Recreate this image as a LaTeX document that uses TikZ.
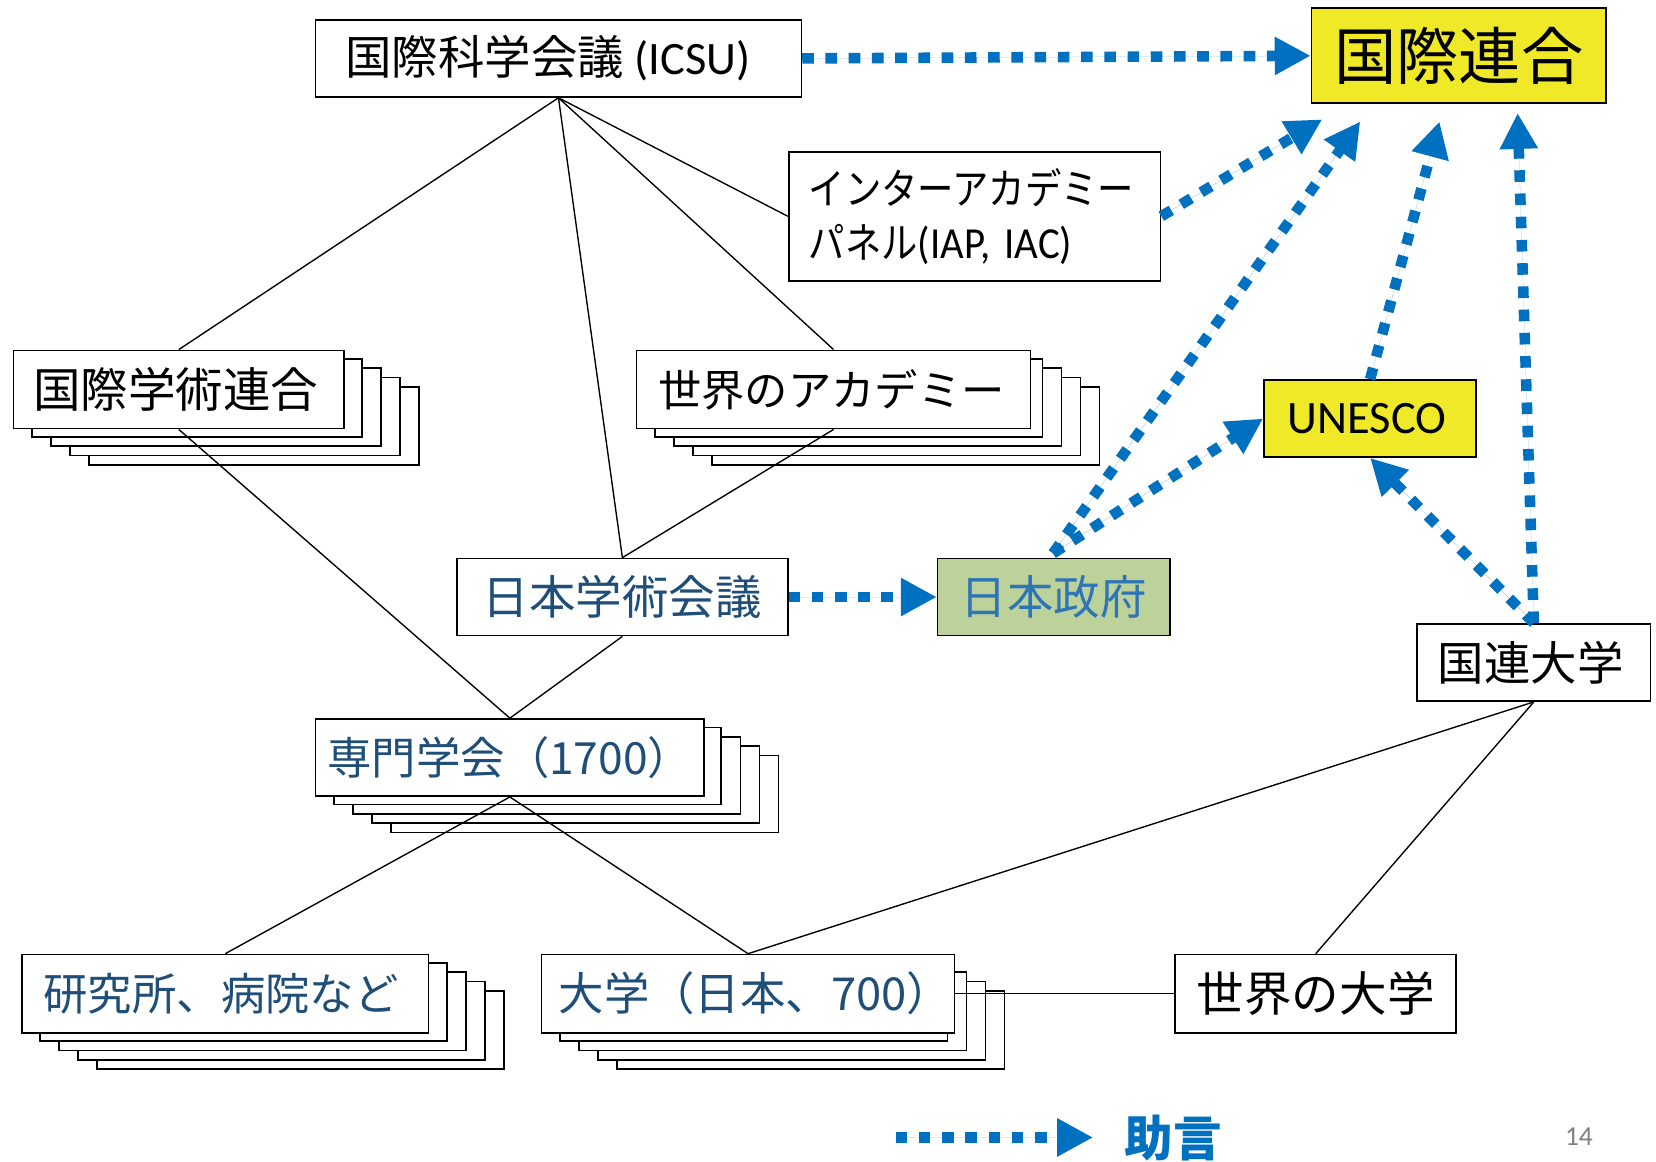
\documentclass[tikz,border=0pt]{standalone}
\usepackage{fontspec}
\setmainfont{Noto Sans CJK JP}
\newfontfamily\latf{Carlito}
\newfontfamily\narrowf[FakeStretch=0.86]{Noto Sans CJK JP}
\newfontfamily\narrowlat[FakeStretch=0.92]{Carlito}
\usetikzlibrary{arrows.meta}
\definecolor{unyellow}{RGB}{240,233,40}
\definecolor{govgreen}{RGB}{189,210,155}
\definecolor{advblue}{RGB}{0,112,192}
\definecolor{darkblue}{RGB}{31,78,121}
\definecolor{govblue}{RGB}{46,117,182}
\newcommand{\fsz}[1]{\fontsize{#1pt}{#1pt}\selectfont}
% name, x, y, w, h, back width, text
\newcommand{\stackbox}[7]{%
  \foreach \k in {4,3,2,1} {\draw[backbox] ({#2+18*\k},{#3+8.8*\k}) rectangle ++(#6,#5);}
  \node[box, minimum width=#4pt, minimum height=#5pt] (#1) at (#2,#3) {#7};
}
\begin{document}
\begin{tikzpicture}[x=1pt,y=-1pt,
  box/.style={draw=black, line width=1.6pt, fill=white, inner sep=0pt, anchor=north west},
  backbox/.style={draw=black, line width=1.6pt, fill=white},
  link/.style={draw=black, line width=1.3pt},
  advice/.style={draw=advblue, line width=10pt, dash pattern=on 11pt off 11pt,
    -{Triangle[length=34pt,width=34pt]}, fill=advblue}
]
\useasboundingbox (0,0) rectangle (1568,1100);
\fill[white] (0,0) rectangle (1568,1100);

% stacked boxes
\stackbox{kokusai}{12}{331}{313}{74}{313}{\fsz{45}国際学術連合\kern6pt}
\stackbox{academy}{602}{331}{373}{74}{367}{\fsz{41}世界のアカデミー\kern4pt}
\stackbox{senmon}{298}{680}{368}{73}{367}{\fsz{42}\color{darkblue}専門学会（1700）}
\stackbox{kenkyu}{20}{903}{385}{74}{385}{\fsz{42}\color{darkblue}研究所、病院など\kern8pt}
\stackbox{daigaku}{512}{903}{391}{74}{367}{\kern14pt\fsz{43}\color{darkblue}大学（日本、700）}

% single boxes
\node[box, minimum width=460pt, minimum height=73pt] (icsu) at (298,18) {\fsz{44}国際科学会議\kern10pt{\latf (ICSU)}\kern20pt};
\node[box, fill=unyellow, minimum width=279pt, minimum height=90pt] (un) at (1241,7) {\fsz{59}国際連合};
\node[box, minimum height=122pt, text width=314pt, inner xsep=19pt, align=left,
  font=\narrowf\fontsize{40pt}{51pt}\selectfont] (iap) at (746,143)
  {インターアカデミー\\パネル{\narrowlat\fsz{42}(IAP, IAC)}};
\node[box, fill=unyellow, minimum width=201pt, minimum height=73pt] (unesco) at (1196,359) {\latf\fsz{44}UNESCO\kern6pt};
\node[box, minimum width=313pt, minimum height=73pt] (scj) at (432,528) {\fsz{44}\color{darkblue}日本学術会議};
\node[box, fill=govgreen, minimum width=220pt, minimum height=73pt] (gov) at (887,528) {\fsz{44}\color{govblue}日本政府};
\node[box, minimum width=221pt, minimum height=73pt] (unu) at (1341,590) {\fsz{44}国連大学\kern6pt};
\node[box, minimum width=266pt, minimum height=74pt] (world) at (1112,903) {\fsz{45}世界の大学};

% black connectors
\draw[link] (icsu.south) -- (kokusai.north);
\draw[link] (icsu.south) -- (scj.north);
\draw[link] (icsu.south) -- (academy.north);
\draw[link] (icsu.south) -- (iap.west);
\draw[link] (kokusai.south) -- (senmon.north);
\draw[link] (academy.south) -- (scj.north);
\draw[link] (scj.south) -- (senmon.north);
\draw[link] (senmon.south) -- (kenkyu.north);
\draw[link] (senmon.south) -- (daigaku.north);
\draw[link] (unu.south) -- (daigaku.north);
\draw[link] (unu.south) -- (world.north);
\draw[link] (daigaku.east) -- (world.west);

% advice arrows
\coordinate (tipA) at (1252,113);
\coordinate (tipB) at (1288,115);
\coordinate (tipC) at (1363,115);
\coordinate (tipD) at (1437,107);
\coordinate (govtop) at (997,524);
\draw[advice] (icsu.east) -- (un.west);
\draw[advice] (iap.east) -- (tipA);
\draw[advice] (govtop) -- (tipB);
\draw[advice] (govtop) -- (unesco.west);
\draw[advice] (unesco.north) -- (tipC);
\draw[advice] (unu.north) -- (tipD);
\draw[advice] (unu.north) -- (unesco.south);
\draw[advice] (scj.east) -- (gov.west);

% legend
\coordinate (legA) at (848,1077);
\coordinate (legB) at (1035,1077);
\draw[advice] (legA) -- (legB);
\node[text=advblue, font=\fsz{46}\bfseries] (legtext) at (1111,1078) {助言};
\node[text=gray, font=\latf\fsz{26}] (pagenum) at (1495,1076) {14};
\end{tikzpicture}
\end{document}
